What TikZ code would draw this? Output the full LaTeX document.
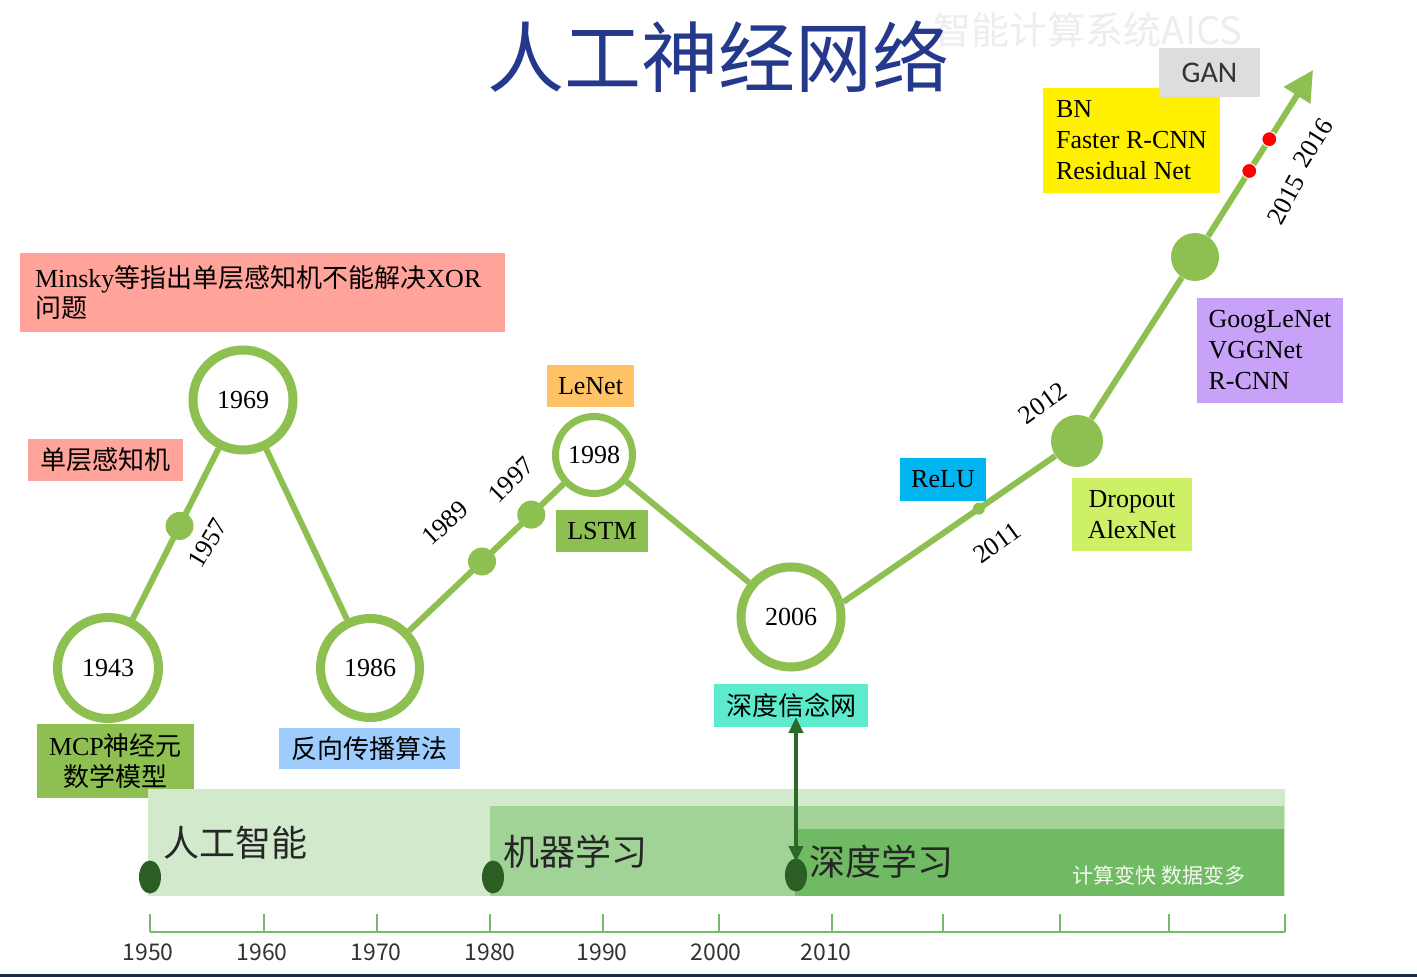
\documentclass[tikz,border=0pt]{standalone}
\usepackage{fontspec}
\setmainfont{Liberation Serif}
\newfontfamily\cjk{Noto Sans CJK SC}
\newfontfamily\gansf{Carlito}
\usetikzlibrary{arrows.meta,calc}
\definecolor{leaf}{RGB}{141,192,80}
\definecolor{pinkbox}{RGB}{255,163,155}
\definecolor{orangebox}{RGB}{255,194,102}
\definecolor{bluebox}{RGB}{158,204,252}
\definecolor{tealbox}{RGB}{92,235,204}
\definecolor{skybox}{RGB}{0,181,240}
\definecolor{limebox}{RGB}{206,240,102}
\definecolor{lilacbox}{RGB}{200,162,248}
\definecolor{yellowbox}{RGB}{255,240,0}
\definecolor{greybox}{RGB}{221,221,221}
\definecolor{era1}{RGB}{210,233,203}
\definecolor{era2}{RGB}{161,211,151}
\definecolor{era3}{RGB}{111,186,99}
\definecolor{eradot}{RGB}{42,94,35}
\definecolor{bondgreen}{RGB}{46,104,40}
\definecolor{axisgreen}{RGB}{118,185,108}
\definecolor{titleblue}{RGB}{36,56,140}
\definecolor{strip}{RGB}{28,40,72}
\tikzset{
  milestone/.style={circle,draw=leaf,line width=4.5pt,fill=white,inner sep=0pt,minimum size=50pt,font=\fontsize{13}{15}\selectfont},
  knot/.style={circle,fill=leaf,inner sep=0pt,minimum size=14pt},
  hot/.style={circle,fill=red,draw=white,line width=0.5pt,inner sep=0pt,minimum size=7.5pt},
  link/.style={draw=leaf,line width=3pt},
  notebox/.style={inner sep=0pt,align=center,font=\fontsize{13}{15.5}\selectfont},
  year/.style={font=\fontsize{13}{15}\selectfont},
  era/.style={anchor=west,inner sep=0pt,text=black!85,font=\cjk\fontsize{18}{20}\selectfont},
  axis/.style={draw=axisgreen,line width=1.2pt}
}
\begin{document}
\begin{tikzpicture}[x=0.5pt,y=-0.5pt]
  \useasboundingbox (0,0) rectangle (1417,977);
  \fill[white] (0,0) rectangle (1417,977);
  \fill[strip] (0,974) rectangle (1417,977);
  \node[text=black!7,font=\cjk\fontsize{19}{21}\selectfont] (mark) at (1088,30) {智能计算系统AICS};
  \node[text=titleblue,font=\cjk\fontsize{38.5}{42}\selectfont] (title) at (718,57) {人工神经网络};

  \node[milestone,minimum size=50.5pt] (c1943) at (108,668) {1943};
  \node[milestone] (c1969) at (243,400) {1969};
  \node[milestone,minimum size=49.5pt] (c1986) at (370,668) {1986};
  \node[milestone,minimum size=38.5pt,line width=3.5pt] (c1998) at (594,455) {1998};
  \node[milestone] (c2006) at (791,617) {2006};
  \node[knot,minimum size=26pt] (d2012) at (1077,441) {};
  \node[knot,minimum size=24pt] (d2014) at (1195,257) {};
  \coordinate (tip) at (1313,70);

  \draw[link] (c1943) -- (c1969);
  \draw[link] (c1969) -- (c1986);
  \draw[link] (c1986) -- (c1998);
  \draw[link] (c1998) -- (c2006);
  \draw[link] (c2006.16) -- (d2012);
  \draw[link] (d2012) -- (d2014);
  \draw[link,-{Triangle[length=15pt,width=15pt]}] (d2014) -- (tip);

  \node[knot] (d1957) at ($(c1943)!0.53!(c1969)$) {};
  \node[knot] (d1989) at ($(c1986)!0.5!(c1998)$) {};
  \node[knot] (d1997) at ($(c1986)!0.72!(c1998)$) {};
  \node[knot,minimum size=6pt] (d2011) at ($(c2006.16)!0.58!(d2012)$) {};
  \node[hot] (r2015) at ($(d2014)!0.46!(tip)$) {};
  \node[hot] (r2016) at ($(d2014)!0.63!(tip)$) {};

  \node[year,rotate=59] (y1957) at (208,543) {1957};
  \node[year,rotate=42] (y1989) at (445,523) {1989};
  \node[year,rotate=45] (y1997) at (511,480) {1997};
  \node[year,rotate=36] (y2011) at (997,543) {2011};
  \node[year,rotate=36] (y2012) at (1043,403) {2012};
  \node[year,rotate=62] (y2015) at (1286,200) {2015};
  \node[year,rotate=58] (y2016) at (1313,143) {2016};

  \node[notebox,fill=pinkbox,minimum width=242.5pt,minimum height=39.5pt,text width=227.5pt,align=left,font=\fontsize{13}{15}\selectfont] (minsky) at (262.5,292.5) {Minsky{\cjk 等指出单层感知机不能解决}XOR\\{\cjk 问题}};
  \node[notebox,fill=pinkbox,minimum width=77.5pt,minimum height=21pt,font=\cjk\fontsize{13}{15}\selectfont] (single) at (105.5,460) {单层感知机};
  \node[notebox,fill=orangebox,minimum width=43.5pt,minimum height=21pt] (lenet) at (590.5,386) {LeNet};
  \node[notebox,fill=leaf,minimum width=46pt,minimum height=21pt] (lstm) at (602,531) {LSTM};
  \node[notebox,fill=leaf,minimum width=78.5pt,minimum height=37pt] (mcp) at (115.5,761) {MCP{\cjk 神经元}\\{\cjk 数学模型}};
  \node[notebox,fill=bluebox,minimum width=90.5pt,minimum height=20.5pt,font=\cjk\fontsize{13}{15}\selectfont] (bp) at (369.5,748.5) {反向传播算法};
  \node[notebox,fill=tealbox,minimum width=77pt,minimum height=21.5pt,font=\cjk\fontsize{13}{15}\selectfont] (dbn) at (791,705.5) {深度信念网};
  \node[notebox,fill=skybox,minimum width=43pt,minimum height=21.5pt] (relu) at (943,479.5) {ReLU};
  \node[notebox,fill=limebox,minimum width=60pt,minimum height=36.5pt] (dropout) at (1132,514.5) {Dropout\\AlexNet};
  \node[notebox,fill=lilacbox,minimum width=73pt,minimum height=52.5pt,align=left] (googlenet) at (1270,350.5) {GoogLeNet\\VGGNet\\R-CNN};
  \node[notebox,fill=yellowbox,minimum width=88.5pt,minimum height=52.5pt,align=left] (bn) at (1131.5,140.5) {BN\\Faster R-CNN\\Residual Net};
  \node[notebox,fill=greybox,minimum width=50.5pt,minimum height=24.5pt,text=black!80,font=\gansf\fontsize{15}{17}\selectfont] (gan) at (1209.5,72.5) {GAN};

  \fill[era1] (148,789) rectangle (1285,896);
  \fill[era2] (490,806) rectangle (1284,896);
  \fill[era3] (795,829) rectangle (1284,896);
  \foreach \x/\y in {150/877,493/877,796/875}
    \fill[eradot] (\x,\y) ellipse [x radius=5.5pt,y radius=8.25pt];
  \node[era] (ai) at (163,843) {人工智能};
  \node[era] (ml) at (503,852) {机器学习};
  \node[era] (dl) at (809,862) {深度学习};
  \node[anchor=west,inner sep=0pt,text=white!90!leaf,font=\cjk\fontsize{10.5}{12}\selectfont] (fast) at (1072,875) {计算变快 数据变多};

  \coordinate (dbnfoot) at (796,717);
  \coordinate (dlhead) at (796,862);
  \draw[bondgreen,line width=2pt,{Triangle[length=8pt,width=7pt]}-{Triangle[length=8pt,width=7pt]}] (dlhead) -- (dbnfoot);

  \draw[axis] (150,932) -- (1285,932);
  \foreach \x in {150,264,377,490,603,719,832,943,1060,1169,1285}
    \draw[axis] (\x,932) -- (\x,914);
  \foreach \x/\yr in {148/1950,262/1960,376/1970,490/1980,602/1990,716/2000,826/2010}
    \node[text=black!80,font=\cjk\fontsize{11.5}{13}\selectfont] (t\yr) at (\x,952) {\yr};
\end{tikzpicture}
\end{document}
